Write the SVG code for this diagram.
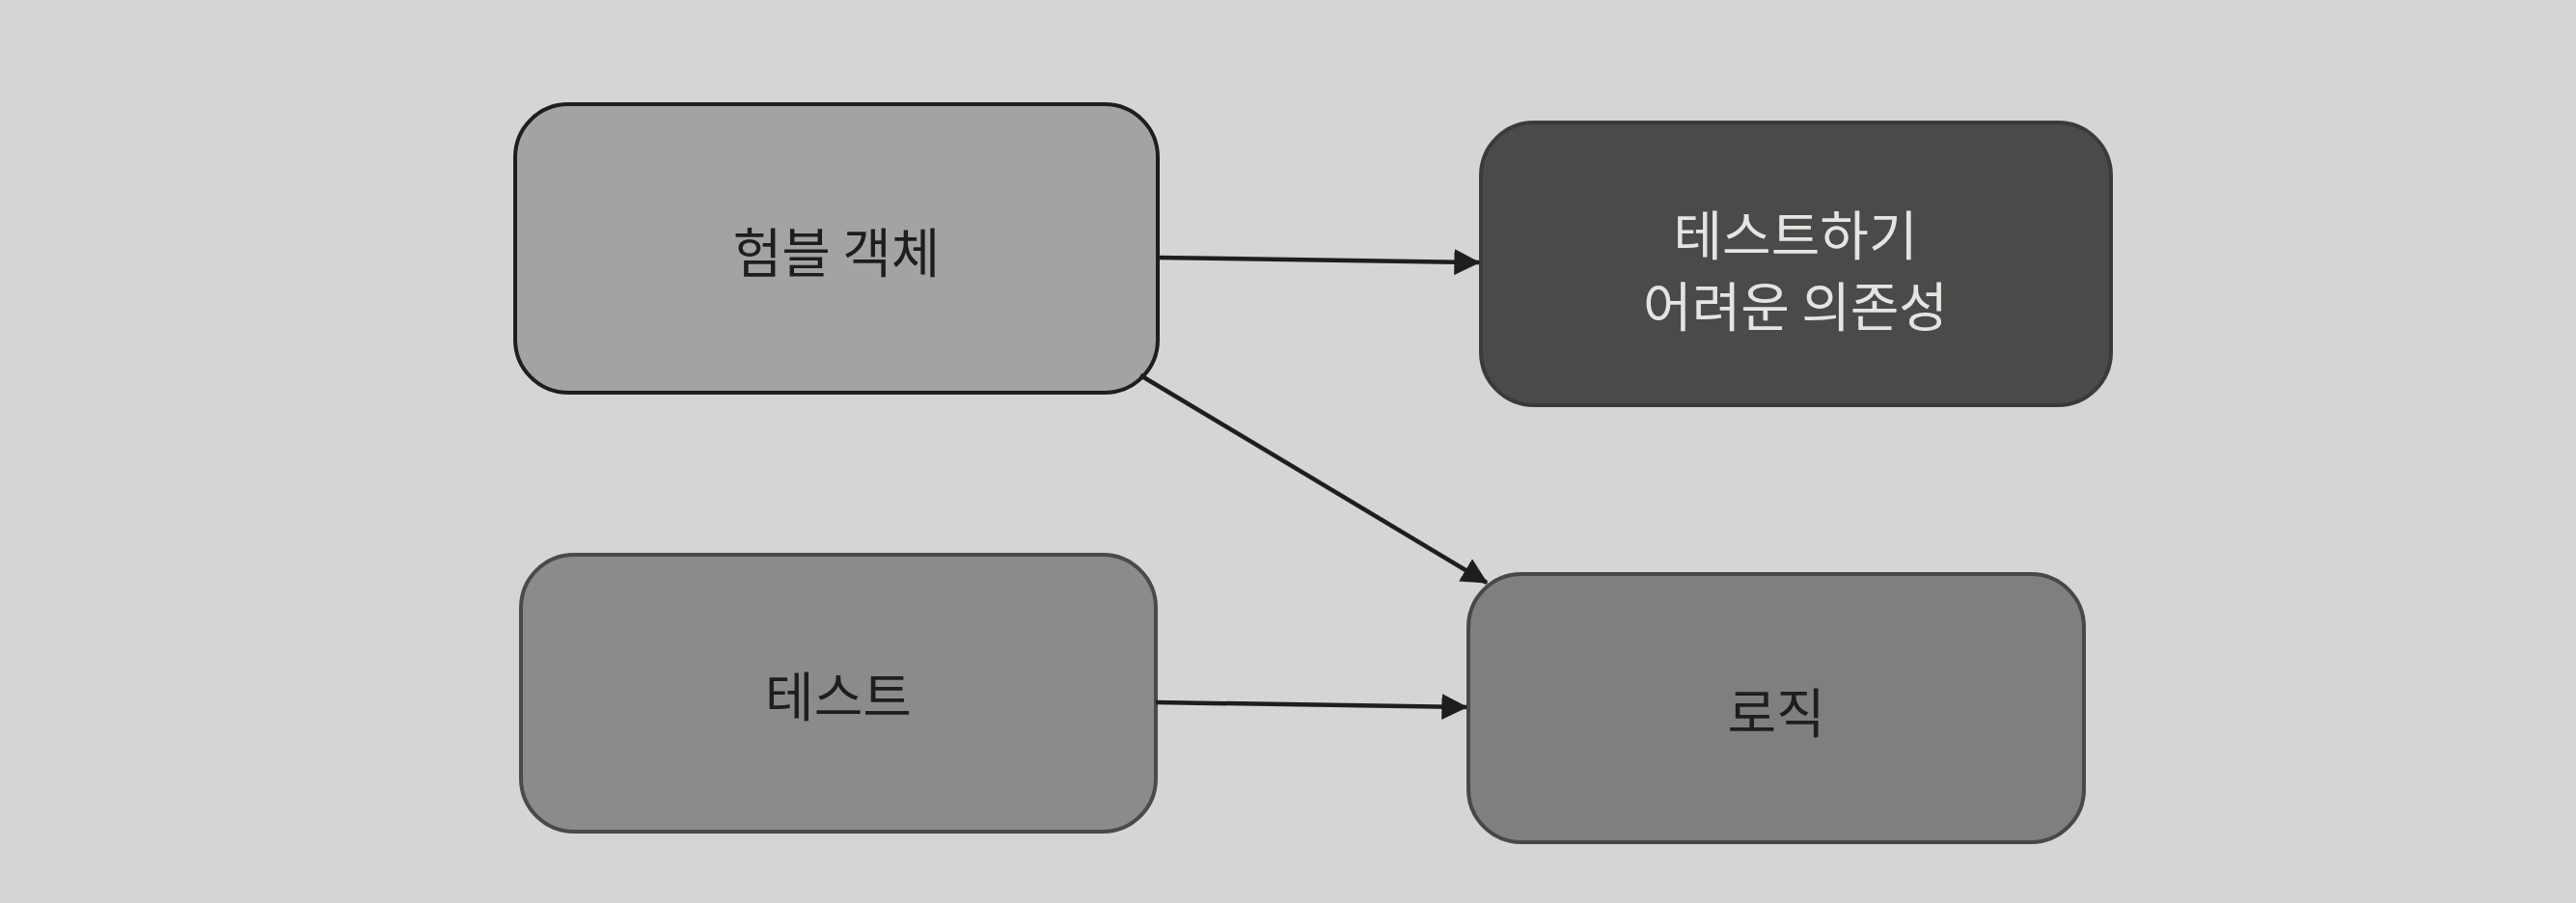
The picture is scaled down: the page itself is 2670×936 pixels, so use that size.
<svg xmlns="http://www.w3.org/2000/svg" width="2670" height="936" viewBox="0 0 2670 936">
  <style>
    .box { stroke-width: 4; }
    .label { font-family: "Noto Sans CJK KR", "Noto Sans", sans-serif; font-size: 55px; text-anchor: middle; dominant-baseline: central; }
    .dark { fill: #1e1e1e; }
    .light { fill: #e4e4e2; }
    .edge { stroke: #1e1e1e; stroke-width: 4.5; fill: none; marker-end: url(#arrow); }
  </style>
  <defs>
    <marker id="arrow" viewBox="0 0 10 10" refX="9.5" refY="5" markerWidth="6" markerHeight="6" markerUnits="strokeWidth" orient="auto">
      <path d="M0,0 L10,5 L0,10 Z" fill="#1e1e1e"/>
    </marker>
  </defs>
  <rect x="0" y="0" width="2670" height="936" fill="#d5d5d3"/>

  <g id="node-humble">
    <rect class="box" x="534" y="108" width="666" height="299" rx="55" ry="55" fill="#a3a3a1" stroke="#1e1e1e" stroke-width="5"/>
    <text class="label dark" x="867" y="258">험블 객체</text>
  </g>
  <g id="node-dependency">
    <rect class="box" x="1535" y="127" width="653" height="293" rx="55" ry="55" fill="#4a4a48" stroke="#3a3a38"/>
    <text class="label light" x="1861" y="240">테스트하기</text>
    <text class="label light" x="1861" y="314">어려운 의존성</text>
  </g>
  <g id="node-test">
    <rect class="box" x="540" y="575" width="658" height="287" rx="55" ry="55" fill="#8b8b89" stroke="#4a4a48"/>
    <text class="label dark" x="869" y="718">테스트</text>
  </g>
  <g id="node-logic">
    <rect class="box" x="1522" y="595" width="638" height="278" rx="55" ry="55" fill="#7f7f7d" stroke="#484846"/>
    <text class="label dark" x="1841" y="735">로직</text>
  </g>

  <g id="connectors">
    <path class="edge" d="M1200,267 L1533,272"/>
    <path class="edge" d="M1182,389 L1541,604"/>
    <path class="edge" d="M1198,728 L1520,733"/>
  </g>
</svg>
